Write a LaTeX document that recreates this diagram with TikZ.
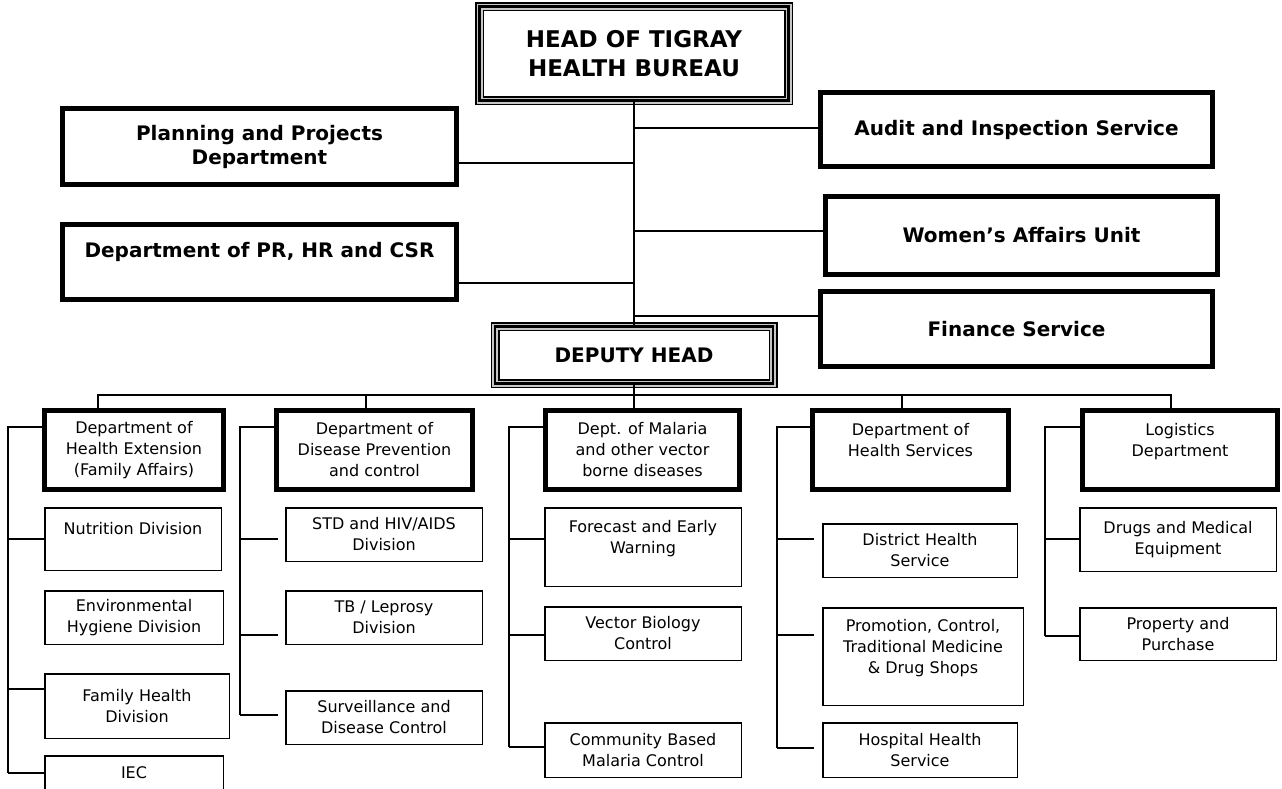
\documentclass[tikz,border=0pt]{standalone}
\usepackage{fontspec}
\setmainfont{DejaVu Sans}
\usetikzlibrary{positioning,calc}

\begin{document}
\begin{tikzpicture}[x=1pt, y=-1pt,
    link/.style={line width=1.3pt},
    chief/.style={draw, line width=1.5pt, double=gray!45, double distance=6pt,
      outer sep=0pt, inner sep=0pt, align=center},
    unit/.style={draw, line width=5pt, outer sep=0pt, inner sep=0pt, align=center,
      font=\bfseries\fontsize{20}{24}\selectfont},
    dept/.style={draw, line width=5pt, outer sep=0pt, inner sep=0pt, align=center,
      font=\fontsize{16}{21}\selectfont},
    sub/.style={draw, line width=1.5pt, outer sep=0pt, inner sep=0pt, align=center,
      font=\fontsize{16}{21}\selectfont}]
    \useasboundingbox (0,0) rectangle (1282,788);

    % head and deputy
    \node[chief, minimum width=309pt, minimum height=94pt,
      font=\bfseries\fontsize{23}{29}\selectfont] (head) at (634,53.5)
      {HEAD OF TIGRAY\\HEALTH BUREAU};
    \node[chief, minimum width=278pt, minimum height=57pt,
      font=\bfseries\fontsize{20}{24}\selectfont] (deputy) at (634,355) {DEPUTY HEAD};
    \draw[line width=2.5pt] (head.north west) rectangle (head.south east);
    \draw[line width=2.5pt] (deputy.north west) rectangle (deputy.south east);

    % staff units
    \node[unit, minimum width=394pt, minimum height=76pt] (plan) at (259.5,146.5)
      {Planning and Projects\\Department};
    \node[unit, minimum width=394pt, minimum height=75pt] (pr) at (259.5,262)
      {Department of PR, HR and CSR\\ \mbox{}};
    \node[unit, minimum width=392pt, minimum height=74pt] (audit) at (1016.5,129.5)
      {Audit and Inspection Service};
    \node[unit, minimum width=392pt, minimum height=78pt] (women) at (1021.5,235.5)
      {Women’s Affairs Unit};
    \node[unit, minimum width=392pt, minimum height=75pt] (finance) at (1016.5,329)
      {Finance Service};

    % departments
    \node[dept, minimum width=179pt, minimum height=79pt] (d1) at (134,450)
      {Department of\\Health Extension\\(Family Affairs)};
    \node[dept, minimum width=196pt, minimum height=79pt] (d2) at (374.5,450)
      {Department of\\Disease Prevention\\and control};
    \node[dept, minimum width=194pt, minimum height=79pt] (d3) at (642.5,450)
      {Dept. of Malaria\\and other vector\\borne diseases};
    \node[dept, minimum width=196pt, minimum height=79pt] (d4) at (910.5,450)
      {Department of\\Health Services\\ \mbox{}};
    \node[dept, minimum width=195pt, minimum height=79pt] (d5) at (1180,450)
      {Logistics\\Department\\ \mbox{}};

    % divisions
    \node[sub, minimum width=176.5pt, minimum height=62.5pt] (nut) at (133,539)
      {Nutrition Division\\ \mbox{}};
    \node[sub, minimum width=178.5pt, minimum height=53.5pt] (env) at (134,617.5)
      {Environmental\\Hygiene Division};
    \node[sub, minimum width=184.5pt, minimum height=64.5pt] (fam) at (137,706)
      {Family Health\\Division};
    \node[sub, minimum width=178.5pt, minimum height=34pt] (iec) at (134,773) {IEC};
    \node[sub, minimum width=196.5pt, minimum height=53.5pt] (std) at (384,534.5)
      {STD and HIV/AIDS\\Division};
    \node[sub, minimum width=196.5pt, minimum height=53.5pt] (tb) at (384,617.5)
      {TB / Leprosy\\Division};
    \node[sub, minimum width=196.5pt, minimum height=53.5pt] (surv) at (384,717.5)
      {Surveillance and\\Disease Control};
    \node[sub, minimum width=196.5pt, minimum height=78.5pt] (fore) at (643,547)
      {Forecast and Early\\Warning\\ \mbox{}};
    \node[sub, minimum width=196.5pt, minimum height=53.5pt] (vec) at (643,633.5)
      {Vector Biology\\Control};
    \node[sub, minimum width=196.5pt, minimum height=54.5pt] (comm) at (643,750)
      {Community Based\\Malaria Control};
    \node[sub, minimum width=194.5pt, minimum height=53.5pt] (dist) at (920,550.5)
      {District Health\\Service};
    \node[sub, minimum width=200.5pt, minimum height=97.5pt] (prom) at (923,656.5)
      {Promotion, Control,\\Traditional Medicine\\\& Drug Shops\\ \mbox{}};
    \node[sub, minimum width=194.5pt, minimum height=54.5pt] (hosp) at (920,750)
      {Hospital Health\\Service};
    \node[sub, minimum width=196.5pt, minimum height=63.5pt] (drug) at (1178,539.5)
      {Drugs and Medical\\Equipment};
    \node[sub, minimum width=196.5pt, minimum height=52.5pt] (prop) at (1178,634)
      {Property and\\Purchase};

    % top links
    \draw[link] (head.south) -- (deputy.north);
    \foreach \y/\n in {128/audit, 231/women, 316/finance}
      \draw[link] (head.south |- 0,\y) -- (\n.west |- 0,\y);
    \foreach \y/\n in {163/plan, 283/pr}
      \draw[link] (head.south |- 0,\y) -- (\n.east |- 0,\y);

    % bus to departments
    \draw[link] (deputy.south) -- (deputy.south |- 0,395);
    \draw[link] (d1.north -| 98,0) -- (98,395) -- (1171,395) -- (d5.north -| 1171,0);
    \foreach \x/\n in {366/d2, 634/d3, 902/d4}
      \draw[link] (\x,395) -- (\n.north -| \x,0);

    % department side lines
    \foreach \x/\n/\b in {8/d1/773, 240/d2/715, 509/d3/747, 777/d4/748, 1045/d5/636}
      \draw[link] (\n.west |- 0,427) -| (\x,\b);
    \foreach \x/\y/\n/\g in {8/539/nut/0, 8/689/fam/0, 8/773/iec/0,
        240/539/std/8, 240/635/tb/8, 240/715/surv/8,
        509/539/fore/0, 509/635/vec/0, 509/747/comm/0,
        777/539/dist/9, 777/635/prom/9, 777/748/hosp/9,
        1045/539/drug/0, 1045/636/prop/0}
      \draw[link] (\x,\y) -- ([xshift=-\g pt]\n.west |- \x,\y);
\end{tikzpicture}
\end{document}
